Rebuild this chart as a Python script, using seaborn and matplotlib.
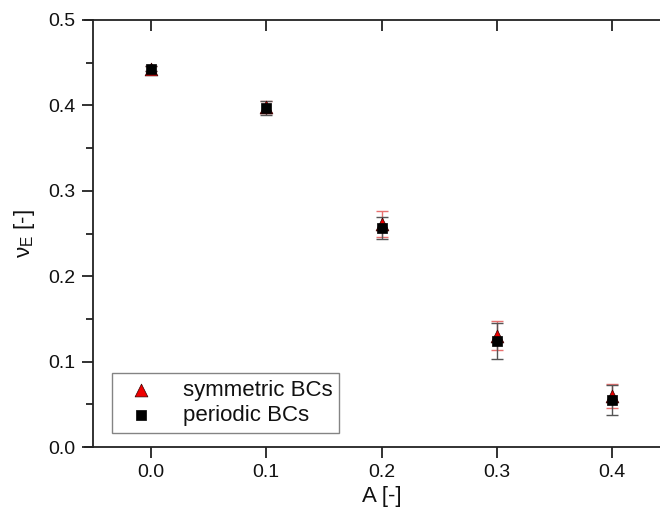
import matplotlib
matplotlib.use("Agg")
import matplotlib.pyplot as plt
import seaborn as sns
import pandas as pd

# data
amplitude = [0.0, 0.1, 0.2, 0.3, 0.4]
sym_values = [0.443, 0.398, 0.261, 0.130, 0.060]
sym_errors = [0.003, 0.007, 0.015, 0.017, 0.014]
per_values = [0.443, 0.397, 0.256, 0.124, 0.055]
per_errors = [0.003, 0.008, 0.013, 0.021, 0.018]
series_labels = ["symmetric BCs", "periodic BCs"]
x_ticks = [0.0, 0.1, 0.2, 0.3, 0.4]
y_ticks = [0.0, 0.1, 0.2, 0.3, 0.4, 0.5]

sns.set_theme(style="white")
plt.rcParams["font.family"] = ["Liberation Sans", "DejaVu Sans"]
plt.rcParams["mathtext.fontset"] = "custom"
plt.rcParams["mathtext.rm"] = "Liberation Sans"
plt.rcParams["mathtext.it"] = "Liberation Sans"
plt.rcParams["mathtext.sf"] = "Liberation Sans"
plt.rcParams["text.color"] = "#111111"
plt.rcParams["axes.labelcolor"] = "#111111"
plt.rcParams["xtick.color"] = "#111111"
plt.rcParams["ytick.color"] = "#111111"

sym_df = pd.DataFrame({"A": amplitude, "nu": sym_values})
per_df = pd.DataFrame({"A": amplitude, "nu": per_values})

fig = plt.figure(figsize=(6.6, 5.16), dpi=100)
ax = fig.add_axes([93.4 / 660, 69 / 516, 576.2 / 660, 427 / 516])

ax.errorbar(amplitude, sym_values, yerr=sym_errors, fmt="none",
            ecolor="#e8706f", elinewidth=1.0, capsize=4, capthick=1.0, zorder=2)
ax.errorbar(amplitude, per_values, yerr=per_errors, fmt="none",
            ecolor="#555555", elinewidth=1.0, capsize=4, capthick=1.0, zorder=3)

sns.scatterplot(data=sym_df, x="A", y="nu", marker="^", color="#ee0000",
                s=85, edgecolor="#330000", linewidth=0.5, ax=ax, zorder=4,
                label=series_labels[0])
sns.scatterplot(data=per_df, x="A", y="nu", marker="s", color="#000000",
                s=50, edgecolor="#000000", linewidth=0.5, ax=ax, zorder=5,
                label=series_labels[1])

ax.set_xlim(-0.05, 0.45)
ax.set_ylim(0.0, 0.5)
ax.set_xticks(x_ticks)
ax.set_xticklabels([f"{v:.1f}" for v in x_ticks])
ax.set_yticks(y_ticks)
ax.set_yticklabels([f"{v:.1f}" for v in y_ticks])
ax.set_yticks([0.05, 0.15, 0.25, 0.35, 0.45], minor=True)

ax.set_xlabel("A [-]", fontsize=16, labelpad=4)
ax.set_ylabel(r"$\mathsf{\nu_E}$ [-]", fontsize=16, labelpad=8)

for side in ["left", "bottom", "top"]:
    ax.spines[side].set_visible(True)
    ax.spines[side].set_color("#222222")
    ax.spines[side].set_linewidth(1.3)
ax.spines["right"].set_visible(False)
ax.spines["bottom"].set_bounds(-0.0575, 0.45)
ax.spines["top"].set_bounds(-0.057, 0.45)

ax.tick_params(axis="x", which="major", bottom=True, top=False, direction="out",
               length=8, width=1.3, color="#222222", labelsize=14, pad=4)
ax.tick_params(axis="y", which="major", left=True, direction="out",
               length=8, width=1.3, color="#222222", labelsize=14, pad=5)
ax.tick_params(axis="y", which="minor", left=True, direction="out",
               length=5, width=1.3, color="#222222")
sec = ax.secondary_xaxis("top")
sec.set_xticks(x_ticks)
sec.tick_params(direction="in", length=8, width=1.3, color="#222222", labeltop=False)
sec.spines["top"].set_visible(False)
ax.grid(False)

leg = ax.legend(loc="lower left", bbox_to_anchor=(0.032, 0.033), borderaxespad=0,
                fontsize=16, frameon=True, fancybox=False, edgecolor="#666666",
                handletextpad=0.9, borderpad=0.3, labelspacing=0.2, handlelength=2.0,
                markerscale=1.0)
leg.get_frame().set_linewidth(1.0)

fig.savefig("out.png", dpi=100)
